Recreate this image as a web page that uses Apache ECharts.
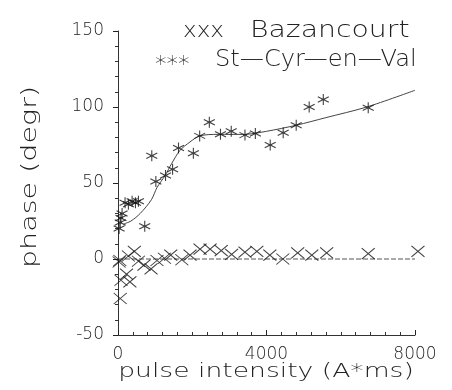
<!DOCTYPE html>
<html>
<head>
<meta charset="utf-8">
<script src="https://cdn.jsdelivr.net/npm/echarts@6/dist/echarts.min.js"></script>
<style>
  html, body { margin: 0; padding: 0; background: #fff; }
  #chart { width: 452px; height: 390px; }
</style>
</head>
<body>
<div id="chart"></div>
<script>
// phase vs pulse intensity, two sites
const bazancourt = [
  [30, -2], [50, -1], [60, -26], [80, -14], [230, -10], [320, -15], [280, 2], [440, 5],
  [550, -1.5], [700, -4], [890, -6.5], [1050, -1], [1250, 0.5], [1420, 2.5], [1720, -0.5],
  [1940, 2.5], [2210, 6.5], [2480, 6.5], [2780, 5.5], [3060, 3], [3420, 4.5], [3740, 5],
  [4090, 2.5], [4440, 0], [4840, 4], [5220, 2.5], [5620, 4], [6740, 3.5], [8080, 5]
];
const stCyr = [
  [30, 20], [60, 24], [80, 27], [110, 30],
  [190, 37], [280, 36], [380, 38], [470, 37], [550, 38],
  [720, 21.5], [910, 68], [1020, 51], [1280, 55], [1470, 59], [1630, 73], [2030, 69.5],
  [2200, 81], [2460, 90], [2760, 82], [3050, 84], [3420, 81.5], [3700, 82.5], [4100, 75],
  [4450, 83], [4800, 88], [5150, 100], [5530, 105], [6740, 99.5]
];
// fitted curves
const stCyrFit = [
  [150, 23], [350, 25], [600, 30], [900, 39], [1050, 47], [1270, 55], [1450, 63],
  [1670, 71.5], [1940, 77], [2200, 81], [2700, 82], [3400, 82], [4000, 84],
  [4800, 88], [5600, 93], [6700, 100], [8000, 111]
];
const bazancourtFit = [[0, 0], [8000, 0]];
const legendMarks = ['xxx', '***'];
const legendNames = ['Bazancourt', 'St—Cyr—en—Val'];
const xName = 'pulse intensity (A*ms)';
const yName = 'phase (degr)';

const font = "'DejaVu Sans', sans-serif";
const ink = '#222';
const crossPath = 'path://M0,0L10,10M10,0L0,10';
const starPath = 'path://M5,0L5,10M0.7,2.5L9.3,7.5M0.7,7.5L9.3,2.5M3.5,5L6.5,5';

const chart = echarts.init(document.getElementById('chart'));

function label(text, x, y, size, sx, align, rot) {
  return {
    type: 'text', x: x, y: y, scaleX: sx, rotation: rot || 0, silent: true,
    style: { text: text, font: '200 ' + size + 'px ' + font, fill: ink, align: align || 'left', verticalAlign: 'middle' }
  };
}

chart.setOption({
  backgroundColor: '#fff',
  animation: false,
  grid: { left: 118, right: 37, top: 31, bottom: 55 },
  xAxis: {
    type: 'value', min: 0, max: 8000, interval: 4000,
    axisLine: { onZero: false, lineStyle: { color: '#333', width: 1 } },
    axisTick: { inside: true, length: 5, lineStyle: { color: '#222' } },
    minorTick: { show: true, splitNumber: 10, length: 3, lineStyle: { color: '#333' } },
    axisLabel: { fontFamily: font, fontWeight: 200, fontSize: 17, color: ink, margin: 11, formatter: v => String(v) },
    splitLine: { show: false }
  },
  yAxis: {
    type: 'value', min: -50, max: 150, interval: 50,
    axisLine: { onZero: false, lineStyle: { color: '#333', width: 1 } },
    axisTick: { length: 5, lineStyle: { color: '#222' } },
    minorTick: { show: true, splitNumber: 5, length: 3, lineStyle: { color: '#333' } },
    axisLabel: { fontFamily: font, fontWeight: 200, fontSize: 17, color: ink, margin: 14 },
    splitLine: { show: false }
  },
  graphic: [
    label(legendMarks[0], 183, 31, 22, 1.05),
    label(legendNames[0], 250, 31, 23, 1.23),
    label(legendMarks[1], 155, 65, 22, 1.05),
    label(legendNames[1], 215, 60, 23, 1.05),
    label(xName, 266, 372, 20, 1.33, 'center'),
    label(yName, 31, 177, 21, 1.36, 'center', Math.PI / 2)
  ],
  series: [
    {
      name: 'Bazancourt fit', type: 'line', data: bazancourtFit, showSymbol: false,
      lineStyle: { color: '#555', width: 1, type: [5, 2] }, z: 1
    },
    {
      name: 'St-Cyr fit', type: 'line', data: stCyrFit, smooth: 0.3, showSymbol: false,
      lineStyle: { color: '#444', width: 1 }, z: 1
    },
    {
      name: 'Bazancourt', type: 'scatter', data: bazancourt, clip: false,
      symbol: crossPath, symbolSize: [13, 11],
      itemStyle: { color: 'transparent', borderColor: '#111', borderWidth: 1 }
    },
    {
      name: 'St-Cyr-en-Val', type: 'scatter', data: stCyr, clip: false,
      symbol: starPath, symbolSize: [11, 11],
      itemStyle: { color: 'transparent', borderColor: '#111', borderWidth: 1.1 }
    }
  ]
});
</script>
</body>
</html>
